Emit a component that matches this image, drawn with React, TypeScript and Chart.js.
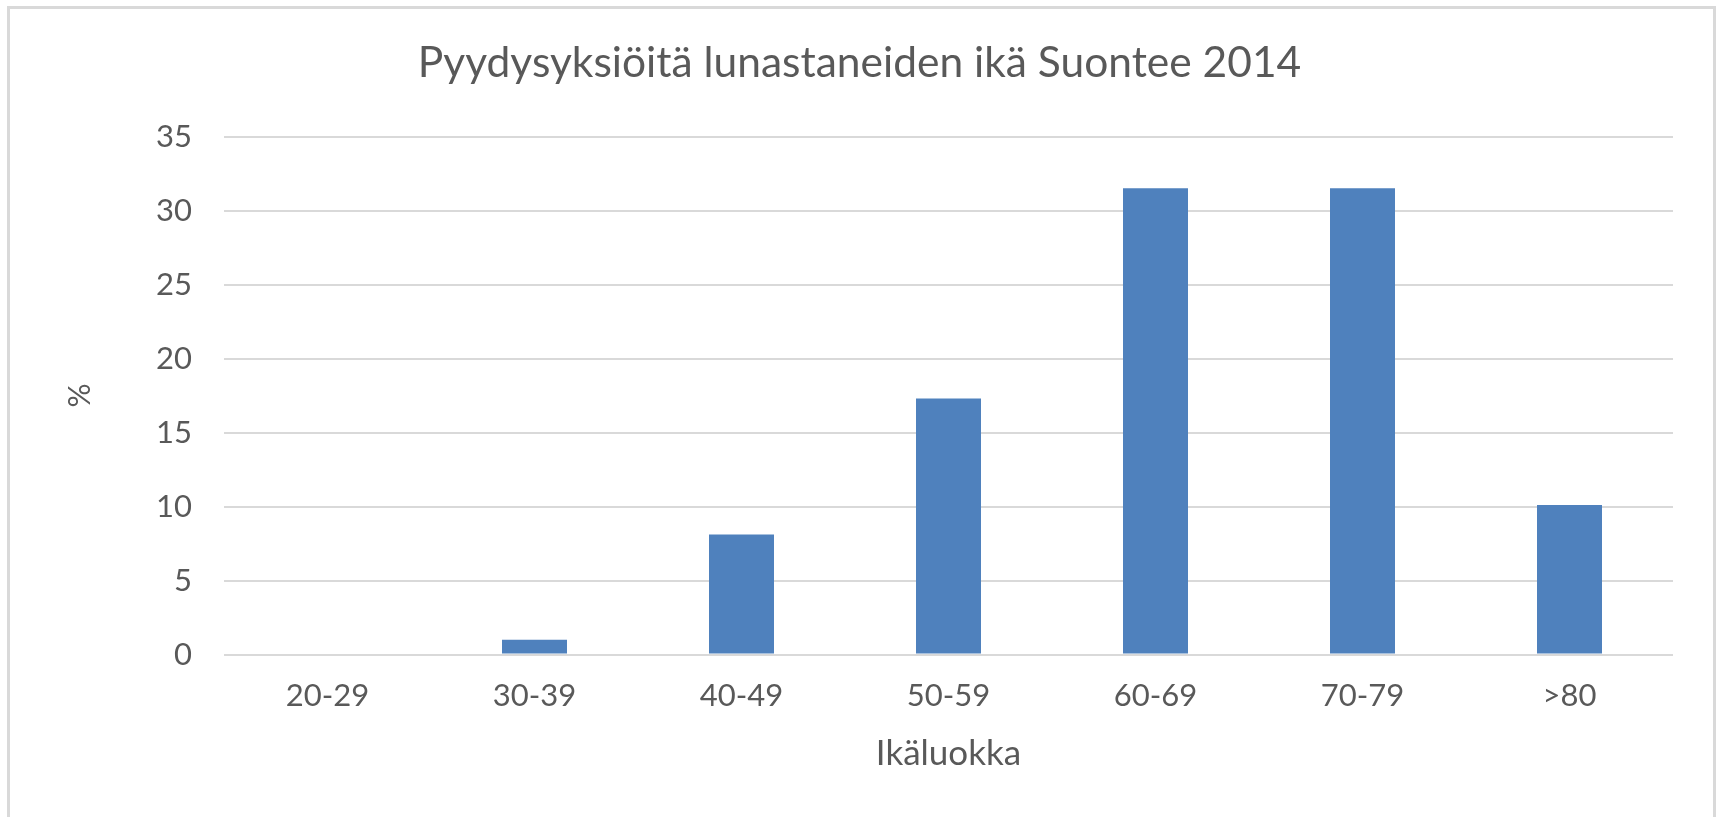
import React, { useEffect, useRef } from "react";
import { Chart, registerables } from "chart.js";

Chart.register(...registerables);

const categories = ["20-29", "30-39", "40-49", "50-59", "60-69", "70-79", ">80"];
const percentValues = [0, 1.0, 8.1, 17.3, 31.5, 31.5, 10.1];
const yTicks = [0, 5, 10, 15, 20, 25, 30, 35];
const chartTitle = "Pyydysyksiöitä lunastaneiden ikä Suontee 2014";
const xTitle = "Ikäluokka";
const yTitle = "%";

const FONT = "Lato, 'Open Sans', sans-serif";
const TEXT = "#595959";
const GRID = "#d9d9d9";
const BAR = "#4f81bd";

export default function App() {
  const ref = useRef<HTMLCanvasElement | null>(null);

  useEffect(() => {
    if (!ref.current) return;
    const chart = new Chart(ref.current, {
      type: "bar",
      data: {
        labels: categories,
        datasets: [
          {
            data: percentValues,
            backgroundColor: BAR,
            borderWidth: 0,
            barPercentage: 0.314,
            categoryPercentage: 1,
          },
        ],
      },
      options: {
        animation: false,
        responsive: false,
        devicePixelRatio: 1,
        layout: { padding: { left: 0, right: 0, top: 0, bottom: 0 } },
        plugins: {
          legend: { display: false },
          tooltip: { enabled: false },
          title: {
            display: true,
            text: chartTitle,
            color: TEXT,
            font: { family: FONT, size: 42.5, weight: "normal", lineHeight: 1.2 },
            padding: { top: 37.5, bottom: 48 },
          },
        },
        scales: {
          x: {
            grid: { display: false, drawTicks: false },
            border: { display: false },
            ticks: {
              color: TEXT,
              font: { family: FONT, size: 31, lineHeight: 1.2 },
              padding: 23,
              maxRotation: 0,
            },
            title: {
              display: true,
              text: xTitle,
              color: TEXT,
              font: { family: FONT, size: 35, lineHeight: 1.2 },
              padding: { top: 0, bottom: 42 },
            },
            afterFit: (scale: any) => {
              scale.height = 162.5;
            },
          },
          y: {
            min: 0,
            max: 35,
            afterBuildTicks: (scale: any) => {
              scale.ticks = yTicks.map((v) => ({ value: v }));
            },
            grid: { color: GRID, lineWidth: 2, drawTicks: false },
            border: { display: false },
            ticks: {
              color: TEXT,
              font: { family: FONT, size: 31, lineHeight: 1.2 },
              padding: 32,
            },
            title: {
              display: true,
              text: yTitle,
              color: TEXT,
              font: { family: FONT, size: 30, lineHeight: 1.2 },
              padding: { top: 62, bottom: 0 },
            },
            afterFit: (scale: any) => {
              scale.width = 224;
            },
          },
          ySpacer: {
            position: "right",
            display: true,
            grid: { display: false, drawTicks: false },
            border: { display: false },
            ticks: { display: false },
            afterFit: (scale: any) => {
              scale.width = 46;
            },
          },
        },
      },
    });
    return () => chart.destroy();
  }, []);

  return (
    <div
      style={{
        position: "absolute",
        left: 0,
        top: 0,
        width: 1719,
        height: 817,
        overflow: "hidden",
        background: "#ffffff",
      }}
    >
      <div
        style={{
          position: "absolute",
          left: 7,
          top: 6,
          width: 1709,
          height: 900,
          boxSizing: "border-box",
          border: `3px solid ${GRID}`,
        }}
      />
      <canvas
        ref={ref}
        width={1719}
        height={817}
        style={{ position: "absolute", left: 0, top: 0, width: 1719, height: 817 }}
      />
    </div>
  );
}
